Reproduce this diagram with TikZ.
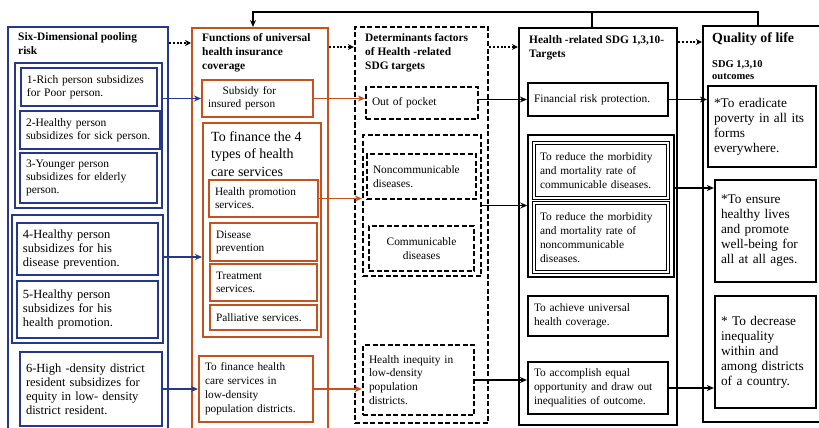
\documentclass[tikz,border=0pt]{standalone}
\usepackage{fontspec}
\setmainfont{Liberation Serif}
\usetikzlibrary{arrows.meta,calc,positioning}
\definecolor{poolblue}{HTML}{26388A}
\definecolor{fundorange}{HTML}{C4521F}

\begin{document}
\begin{tikzpicture}[x=1pt,y=-1pt,
  wh/.code 2 args={\pgfmathsetmacro\bxw{#1-12}\edef\bxset{\noexpand\tikzset{text width=\bxw pt,minimum height=#2pt}}\bxset},
  sz/.style 2 args={minimum width=#1pt,minimum height=#2pt,inner sep=0pt},
  txt/.style={align=left,inner xsep=6pt,inner ysep=1pt,font=\fontsize{11.4}{13.8}\selectfont},
  blu/.style={draw=poolblue,line width=2pt},
  org/.style={draw=fundorange,line width=2pt},
  dsh/.style={draw,line width=2.2pt,dash pattern=on 5pt off 2.5pt},
  blk/.style={draw,line width=2.2pt},
  dbl/.style={draw,double,double distance=1.3pt,line width=1.2pt},
  head/.style={anchor=north west,inner sep=0pt,align=left,font=\bfseries\fontsize{11.4}{14}\selectfont},
  dotarrow/.style={line width=2pt,dash pattern=on 2pt off 1.8pt,-{Stealth[length=6pt,width=6pt]}},
  barrow/.style={poolblue,line width=1.8pt,-{Stealth[length=7pt,width=6pt]}},
  oarrow/.style={fundorange,line width=1.8pt,-{Stealth[length=7pt,width=6pt]}},
  karrow/.style={line width=1.8pt,-{Stealth[length=7pt,width=6pt]}}]
  \useasboundingbox[fill=white] (0,0) rectangle (819,428);

  \node[blu,sz={160}{405}] (C1) at (88,229.5) {};
  \node[head] (t1) at (18,32) {Six-Dimensional pooling\\risk};
  \node[blu,sz={147}{145}] (G1) at (88.5,135.5) {};
  \node[blu,txt,wh={136}{38},line width=2.6pt,font=\fontsize{11.5}{13}\selectfont] (b1) at (89,87) {1-Rich person subsidizes\\for Poor person.};
  \node[blu,txt,wh={140}{38},font=\fontsize{11.5}{13}\selectfont] (b2) at (90,130) {2-Healthy person\\subsidizes for sick person.};
  \node[blu,txt,wh={137}{50},line width=2.6pt,font=\fontsize{11.5}{13}\selectfont] (b3) at (88.5,178) {3-Younger person\\subsidizes for elderly\\person.};
  \node[blu,sz={151}{128}] (G2) at (87.5,279) {};
  \node[blu,txt,wh={141}{52},line width=2.6pt,font=\fontsize{12.5}{14}\selectfont] (b4) at (87.5,249) {4-Healthy person\\subsidizes for his\\disease prevention.};
  \node[blu,txt,wh={141}{57},line width=2.6pt,font=\fontsize{12.5}{14}\selectfont] (b5) at (87.5,309.5) {5-Healthy person\\subsidizes for his\\health promotion.};
  \node[blu,txt,wh={142}{74},line width=2.6pt,font=\fontsize{12.5}{14}\selectfont] (b6) at (91,389) {6-High -density district\\resident subsidizes for\\equity in low- density\\district resident.};

  \node[org,sz={136}{404}] (C2) at (260,230) {};
  \node[head] (t2) at (202,33) {Functions of universal\\health insurance\\coverage};
  \node[org,txt,wh={111}{37},font=\fontsize{11.3}{13}\selectfont] (s1) at (257.5,98.5) {\hspace*{1.3em}Subsidy for\\insured person};
  \node[org,sz={118}{214}] (F4) at (262,230) {};
  \node[anchor=north west,inner sep=0pt,align=left,font=\fontsize{14}{17.5}\selectfont] (f4t) at (211,131) {To finance the 4\\types of health\\care services};
  \node[org,txt,wh={109}{37},font=\fontsize{11.3}{13}\selectfont] (hp) at (263.5,198.5) {Health promotion\\services.};
  \node[org,txt,wh={107}{38},font=\fontsize{11.3}{13}\selectfont] (dp) at (263.5,242) {Disease\\prevention};
  \node[org,txt,wh={107}{37},font=\fontsize{11.3}{13}\selectfont] (ts) at (263.5,282.5) {Treatment\\services.};
  \node[org,txt,wh={107}{25},font=\fontsize{11.3}{13}\selectfont] (ps) at (263.5,317.5) {Palliative services.};
  \node[org,txt,wh={114}{66},font=\fontsize{11.3}{14}\selectfont] (lf) at (256,389) {To finance health\\care services in\\low-density\\population districts.};

  \node[dsh,sz={133}{396}] (C3) at (421.5,225) {};
  \node[head] (t3) at (365,33) {Determinants factors\\of Health -related\\SDG targets};
  \node[dsh,txt,wh={112}{32}] (op) at (422,103) {Out of pocket};
  \node[dsh,sz={118}{141}] (NG) at (422,205.5) {};
  \node[dsh,txt,wh={109}{45}] (ncd) at (421.5,176.5) {Noncommunicable\\diseases.};
  \node[dsh,txt,wh={105}{45},align=center] (cd) at (421.5,248.5) {Communicable\\diseases};
  \node[dsh,txt,wh={111}{70}] (hi) at (418.5,380) {Health inequity in\\low-density\\population\\districts.};

  \node[blk,sz={158}{397}] (C4) at (598,226.5) {};
  \node[head] (t4) at (529,35) {Health -related SDG 1,3,10-\\Targets};
  \node[blk,txt,wh={140}{33}] (fr) at (598,99.5) {Financial risk protection.};
  \node[blk,line width=1.5pt,sz={146}{142}] (TG) at (601,206) {};
  \node[dbl,txt,wh={134}{55}] (rc) at (601,170.5) {To reduce the morbidity\\and mortality rate of\\communicable diseases.};
  \node[dbl,txt,wh={134}{69}] (rn) at (601,237.5) {To reduce the morbidity\\and mortality rate of\\noncommunicable\\diseases.};
  \node[blk,txt,wh={140}{40}] (uh) at (598,316) {To achieve universal\\health coverage.};
  \node[blk,txt,wh={140}{52}] (eq) at (598,388) {To accomplish equal\\opportunity and draw out\\inequalities of outcome.};

  \node[blk,sz={119}{396}] (C5) at (762.5,224) {};
  \node[head,font=\bfseries\fontsize{13.9}{16}\selectfont] (t5) at (712,33) {Quality of life};
  \node[head,font=\bfseries\fontsize{10.5}{12.5}\selectfont] (t5b) at (712,60) {SDG 1,3,10\\outcomes};
  \node[blk,txt,wh={108}{81},font=\fontsize{13.3}{15}\selectfont] (q1) at (762,126.5) {*To eradicate\\poverty in all its\\forms\\everywhere.};
  \node[blk,txt,wh={101}{102},font=\fontsize{13.3}{15}\selectfont] (q2) at (765.5,231) {*To ensure\\healthy lives\\and promote\\well-being for\\all at all ages.};
  \node[blk,txt,wh={101}{112},font=\fontsize{13.3}{15}\selectfont] (q3) at (765.5,352) {* To decrease\\inequality\\within and\\among districts\\of a country.};

  \draw[dotarrow] (C1.east |- 0,43) -- (C2.west |- 0,43);
  \draw[dotarrow] (C2.east |- 0,47) -- (C3.west |- 0,47);
  \draw[dotarrow] (C3.east |- 0,47) -- (C4.west |- 0,47);
  \draw[dotarrow] (C4.east |- 0,42) -- (C5.west |- 0,42);

  \draw[barrow] (G1.east |- s1.west) -- (s1.west);
  \draw[barrow] (G2.east |- 0,257) -- (F4.west |- 0,257);
  \draw[barrow] (b6.east) -- (lf.west);

  \draw[oarrow] (s1.east) -- (op.west |- s1.east);
  \draw[oarrow] (hp.east) -- (NG.west |- hp.east);
  \draw[oarrow] (lf.east) -- (hi.west |- lf.east);

  \draw[karrow] (op.east |- fr.west) -- (fr.west);
  \draw[karrow] (NG.east) -- (TG.west |- NG.east);
  \draw[karrow] (hi.east) -- (eq.west |- hi.east);

  \draw[karrow] (fr.east) -- (q1.west |- fr.east);
  \draw[karrow] (TG.east |- 0,188) -- (q2.west |- 0,188);
  \draw[karrow] (eq.east) -- (q3.west |- eq.east);

  \draw[karrow] (C5.north -| 758,0) |- (253,12) -- (C2.north -| 253,0);
  \draw[line width=1.8pt] (C4.north -| 592,0) -- (592,12);
\end{tikzpicture}
\end{document}
